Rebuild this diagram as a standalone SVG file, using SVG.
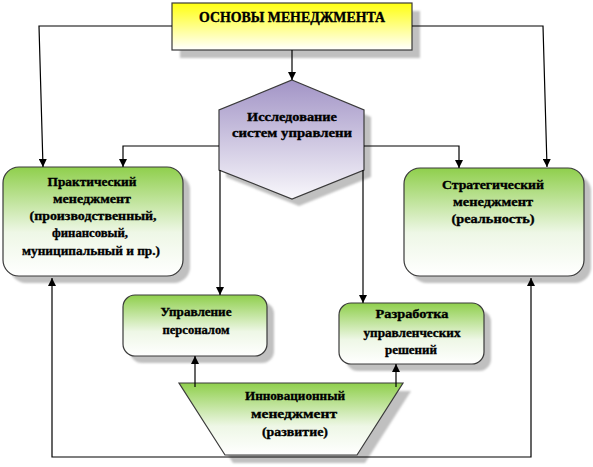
<svg xmlns="http://www.w3.org/2000/svg" width="593" height="467" viewBox="0 0 593 467">
<style>
.t{font-family:"Liberation Serif","Times New Roman","DejaVu Serif",serif;font-weight:bold;fill:#000;stroke:#000;stroke-width:0.35;text-anchor:middle}
.s13{font-size:13px}
.s14{font-size:14px}
.sh{fill:#c0c0c0}
.box{stroke:#3a3a3a;stroke-width:1.2}
.c{fill:none;stroke:#000;stroke-width:1.2}
</style>
<defs>
<linearGradient id="gy" x1="0" y1="0" x2="0" y2="1">
<stop offset="0" stop-color="#ffff10"/>
<stop offset="1" stop-color="#ffffff"/>
</linearGradient>
<linearGradient id="gg" x1="0" y1="0" x2="0" y2="1">
<stop offset="0" stop-color="#8fcf4c"/>
<stop offset="0.6" stop-color="#eef7e6"/>
<stop offset="1" stop-color="#ffffff"/>
</linearGradient>
<linearGradient id="gp" x1="0" y1="0" x2="0" y2="1">
<stop offset="0" stop-color="#a294c6"/>
<stop offset="1" stop-color="#f8f7fb"/>
</linearGradient>
<filter id="blur" x="-10%" y="-10%" width="120%" height="120%"><feGaussianBlur stdDeviation="1"/></filter>
<marker id="ar" viewBox="0 0 8 8" refX="8" refY="4" markerWidth="8" markerHeight="8" markerUnits="userSpaceOnUse" orient="auto">
<path d="M0,0 L8,4 L0,8 z" fill="#000"/>
</marker>
</defs>

<g id="top">
<rect class="sh" x="180" y="11" width="240" height="47" filter="url(#blur)"/>
<rect class="box" x="172" y="3" width="240" height="47" fill="url(#gy)"/>
<text class="t s14" x="292" y="22" textLength="186" lengthAdjust="spacingAndGlyphs">ОСНОВЫ МЕНЕДЖМЕНТА</text>
</g>

<g id="hex">
<polygon class="sh" points="299,87 371,117 371,177 299,206 226,177 226,117" filter="url(#blur)"/>
<polygon class="box" points="292,80 364,110 364,170 292,199 219,170 219,110" fill="url(#gp)"/>
<text class="t s13" x="292" y="121" textLength="90" lengthAdjust="spacingAndGlyphs">Исследование</text>
<text class="t s13" x="292" y="137" textLength="120" lengthAdjust="spacingAndGlyphs">систем управлени</text>
</g>

<g id="practical">
<rect class="sh" x="10" y="174" width="180" height="109" rx="16" filter="url(#blur)"/>
<rect class="box" x="3" y="167" width="180" height="109" rx="16" fill="url(#gg)"/>
<text class="t s13" x="92" y="186" textLength="89" lengthAdjust="spacingAndGlyphs">Практический</text>
<text class="t s13" x="92" y="203" textLength="78" lengthAdjust="spacingAndGlyphs">менеджмент</text>
<text class="t s13" x="93" y="220" textLength="127" lengthAdjust="spacingAndGlyphs">(производственный,</text>
<text class="t s13" x="90" y="237" textLength="76" lengthAdjust="spacingAndGlyphs">финансовый,</text>
<text class="t s13" x="91" y="255" textLength="138" lengthAdjust="spacingAndGlyphs">муниципальный  и пр.)</text>
</g>

<g id="strategic">
<rect class="sh" x="411" y="175" width="180" height="108" rx="16" filter="url(#blur)"/>
<rect class="box" x="404" y="168" width="180" height="108" rx="16" fill="url(#gg)"/>
<text class="t s13" x="493" y="189" textLength="102" lengthAdjust="spacingAndGlyphs">Стратегический</text>
<text class="t s13" x="493" y="206" textLength="80" lengthAdjust="spacingAndGlyphs">менеджмент</text>
<text class="t s13" x="493" y="223" textLength="83" lengthAdjust="spacingAndGlyphs">(реальность)</text>
</g>

<g id="personnel">
<rect class="sh" x="130" y="302" width="144" height="61" rx="12" filter="url(#blur)"/>
<rect class="box" x="123" y="295" width="144" height="61" rx="12" fill="url(#gg)"/>
<text class="t s13" x="196" y="316" textLength="71" lengthAdjust="spacingAndGlyphs">Управление</text>
<text class="t s13" x="196" y="334" textLength="67" lengthAdjust="spacingAndGlyphs">персоналом</text>
</g>

<g id="decisions">
<rect class="sh" x="346" y="310" width="145" height="61" rx="12" filter="url(#blur)"/>
<rect class="box" x="339" y="303" width="145" height="61" rx="12" fill="url(#gg)"/>
<text class="t s13" x="412" y="318" textLength="73" lengthAdjust="spacingAndGlyphs">Разработка</text>
<text class="t s13" x="412" y="337" textLength="97" lengthAdjust="spacingAndGlyphs">управленческих</text>
<text class="t s13" x="411" y="354" textLength="52" lengthAdjust="spacingAndGlyphs">решений</text>
</g>

<g id="innovation">
<polygon class="sh" points="187,391 411,391 365,463 233,463" filter="url(#blur)"/>
<polygon class="box" points="179,383 403,383 357,455 225,455" fill="url(#gg)"/>
<text class="t s13" x="295" y="400" textLength="100" lengthAdjust="spacingAndGlyphs">Инновационный</text>
<text class="t s13" x="294" y="418" textLength="86" lengthAdjust="spacingAndGlyphs">менеджмент</text>
<text class="t s13" x="295" y="436" textLength="66" lengthAdjust="spacingAndGlyphs">(развитие)</text>
</g>

<g id="connectors">
<polyline class="c" points="172,26 39,26 43,167" marker-end="url(#ar)"/>
<polyline class="c" points="412,26 543,26 547,167" marker-end="url(#ar)"/>
<polyline class="c" points="292,50 292,80" marker-end="url(#ar)"/>
<polyline class="c" points="219,146 123,146 123,167" marker-end="url(#ar)"/>
<polyline class="c" points="364,146 459,146 459,168" marker-end="url(#ar)"/>
<polyline class="c" points="220,170 220,295" marker-end="url(#ar)"/>
<polyline class="c" points="363,170 363,303" marker-end="url(#ar)"/>
<polyline class="c" points="195,387 195,356" marker-end="url(#ar)"/>
<polyline class="c" points="396,387 396,364" marker-end="url(#ar)"/>
<polyline class="c" points="291,457 52,457 52,278" marker-end="url(#ar)"/>
<polyline class="c" points="291,457 531,457 531,278" marker-end="url(#ar)"/>
</g>
</svg>
